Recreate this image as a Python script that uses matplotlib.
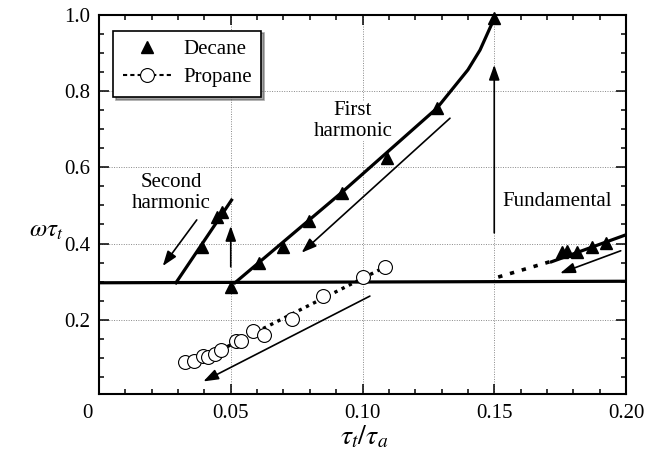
import matplotlib
matplotlib.use('Agg')
import matplotlib.pyplot as plt
from matplotlib.lines import Line2D
from matplotlib.ticker import MultipleLocator
import matplotlib.transforms as mtransforms

plt.rcParams['font.family'] = ['Liberation Serif', 'DejaVu Serif']
plt.rcParams['mathtext.fontset'] = 'stix'

# ---------------- data ----------------
# Decane, first harmonic
dec1_x = [0.0501, 0.0608, 0.0697, 0.0798, 0.0921, 0.1093, 0.1282, 0.1500]
dec1_y = [0.287, 0.348, 0.392, 0.460, 0.534, 0.624, 0.755, 0.991]
dec1_curve_x = [0.0516, 0.0921, 0.1282, 0.1400, 0.1446, 0.1500]
dec1_curve_y = [0.297, 0.534, 0.755, 0.856, 0.908, 0.991]
# Decane, second harmonic
dec2_x = [0.0390, 0.0449, 0.0466]
dec2_y = [0.392, 0.469, 0.484]
dec2_curve_x = [0.0292, 0.0503]
dec2_curve_y = [0.297, 0.514]
# Decane, fundamental
dec0_x = [0.1756, 0.1775, 0.1813, 0.1870, 0.1924]
dec0_y = [0.379, 0.381, 0.377, 0.390, 0.401]
dec0_solid_x = [0.1717, 0.2000]
dec0_solid_y = [0.352, 0.423]
dec0_dotted_x = [0.1515, 0.1710]
dec0_dotted_y = [0.312, 0.352]
# Propane
prop_x = [0.0326, 0.0361, 0.0396, 0.0415, 0.0440, 0.0462, 0.0520, 0.0538,
          0.0586, 0.0626, 0.0732, 0.0851, 0.1003, 0.1087]
prop_y = [0.089, 0.092, 0.105, 0.103, 0.110, 0.121, 0.144, 0.144,
          0.171, 0.161, 0.201, 0.261, 0.313, 0.339]
prop_fit_x = [0.046, 0.109]
prop_fit_y = [0.120, 0.340]
# horizontal baseline
base_x = [0.0, 0.2]
base_y = [0.297, 0.301]
# arrows: (tail, head)
arrows = [
    ((0.0371, 0.462), (0.0242, 0.341)),
    ((0.0500, 0.339), (0.0500, 0.446)),
    ((0.1332, 0.729), (0.0769, 0.376)),
    ((0.1500, 0.428), (0.1500, 0.869)),
    ((0.1028, 0.262), (0.0396, 0.038)),
    ((0.1980, 0.381), (0.1750, 0.322)),
]
labels = [
    ("Second\nharmonic", 0.0276, 0.533),
    ("First\nharmonic", 0.0964, 0.722),
    ("Fundamental", 0.1738, 0.510),
]
xticks = [0.0, 0.05, 0.10, 0.15, 0.20]
xtick_labels = ["0", "0.05", "0.10", "0.15", "0.20"]
yticks = [0.2, 0.4, 0.6, 0.8, 1.0]
ytick_labels = ["0.2", "0.4", "0.6", "0.8", "1.0"]

# ---------------- figure ----------------
fig = plt.figure(figsize=(6.48, 4.57), dpi=100)
ax = fig.add_axes([99/648, 1-394/457, 527/648, 379/457])
ax.set_xlim(0, 0.2)
ax.set_ylim(0.005, 1.0)

ax.grid(True, which='major', ls=(0, (1, 1.5)), color='#888888', lw=0.7)
ax.set_axisbelow(True)

lw_thick = 2.3
ax.plot(base_x, base_y, color='k', lw=lw_thick, solid_capstyle='butt')
ax.plot(dec1_curve_x, dec1_curve_y, color='k', lw=lw_thick)
ax.plot(dec2_curve_x, dec2_curve_y, color='k', lw=lw_thick)
ax.plot(dec0_solid_x, dec0_solid_y, color='k', lw=lw_thick, clip_on=True)
ax.plot(dec0_dotted_x, dec0_dotted_y, color='k', lw=2.6, ls=(0, (1.2, 2.2)))
ax.plot(prop_fit_x, prop_fit_y, color='k', lw=2.4, ls=(0, (1.0, 1.4)))

tri = dict(ls='none', marker='^', ms=9, color='k', clip_on=False, zorder=5)
ax.plot(dec1_x, dec1_y, **tri)
ax.plot(dec2_x, dec2_y, **tri)
ax.plot(dec0_x, dec0_y, **tri)
ax.plot(prop_x, prop_y, ls='none', marker='o', ms=10, mfc='white',
        mec='k', mew=0.8, zorder=5)

for (tail, head) in arrows:
    ax.annotate('', xy=head, xytext=tail,
                arrowprops=dict(arrowstyle='-|>,head_length=0.9,head_width=0.32',
                                lw=1.2, color='k', shrinkA=0, shrinkB=0))

for txt, x, y in labels:
    ax.text(x, y, txt, ha='center', va='center', fontsize=15,
            linespacing=1.1, zorder=6,
            bbox=dict(facecolor='white', edgecolor='none', pad=0.5))

# ticks
ax.set_xticks(xticks)
ax.set_xticklabels(xtick_labels)
ax.set_yticks(yticks)
ax.set_yticklabels(ytick_labels)
ax.xaxis.set_minor_locator(MultipleLocator(0.01))
ax.yaxis.set_minor_locator(MultipleLocator(0.05))
ax.tick_params(which='both', direction='in', top=True, right=True,
               labelsize=15, width=1.1)
ax.tick_params(which='major', length=7)
ax.tick_params(which='minor', length=3.5)
ax.tick_params(axis='x', pad=7)
ax.tick_params(axis='y', pad=6)
for s in ax.spines.values():
    s.set_linewidth(1.5)

lbl0 = ax.get_xticklabels()[0]
lbl0.set_transform(lbl0.get_transform() +
                   mtransforms.ScaledTranslation(-12/100, 0, fig.dpi_scale_trans))

ax.set_ylabel(r'$\omega\tau_t$', fontsize=18, rotation=0, va='center', ha='center')
ax.yaxis.set_label_coords(-0.1, 0.43)
ax.set_xlabel(r'$\tau_t/\tau_a$', fontsize=20, va='center', ha='center')
ax.xaxis.set_label_coords(0.503, -0.113)

# legend
h_dec = Line2D([], [], ls='none', marker='^', ms=9, color='k')
h_prop = Line2D([], [], ls=(0, (2, 1.5)), lw=1.5, color='k', marker='o',
                ms=10, mfc='white', mec='k', mew=0.8)
leg = ax.legend([h_dec, h_prop], ['Decane', 'Propane'], loc='upper left',
                bbox_to_anchor=(0.027, 0.959), borderaxespad=0,
                fontsize=15, frameon=True, fancybox=False, shadow=True,
                handlelength=2.3, handletextpad=0.6, borderpad=0.45,
                labelspacing=0.4)
leg.get_frame().set_edgecolor('k')
leg.get_frame().set_linewidth(1.2)
leg.get_frame().set_alpha(1)

fig.savefig('out.png', dpi=100)
